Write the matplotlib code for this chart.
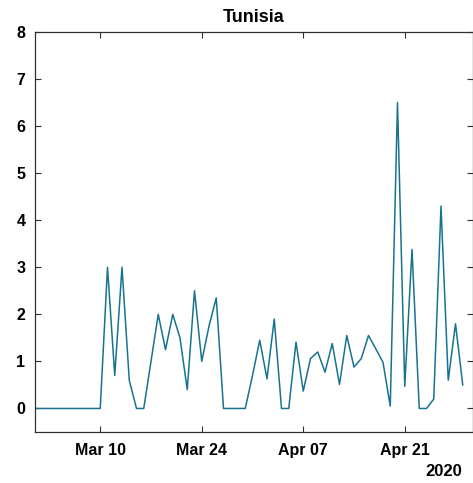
import numpy as np
import matplotlib
matplotlib.use("Agg")
import matplotlib.pyplot as plt
import matplotlib.dates as mdates

plt.rcParams.update({
    "font.family": ["Liberation Sans", "DejaVu Sans"],
    "font.size": 11.5,
    "font.weight": "bold",
})

# daily new cases, 1 Mar 2020 .. 29 Apr 2020
start = np.datetime64("2020-03-01")
values = [
    0, 0, 0, 0, 0, 0, 0, 0, 0, 0,
    3.0, 0.7, 3.0, 0.6, 0, 0, 1.0, 2.0, 1.25, 2.0,
    1.5, 0.4, 2.5, 1.0, 1.75, 2.35, 0, 0, 0, 0,
    0.7, 1.45, 0.63, 1.9, 0, 0, 1.41, 0.37, 1.06, 1.2,
    0.77, 1.38, 0.51, 1.55, 0.88, 1.06, 1.55, 1.27, 0.98, 0.05,
    6.5, 0.47, 3.38, 0, 0, 0.2, 4.3, 0.6, 1.8, 0.5,
]
dates = start + np.arange(len(values)).astype("timedelta64[D]")
tick_dates = np.array(["2020-03-10", "2020-03-24", "2020-04-07", "2020-04-21"],
                      dtype="datetime64[D]")
y_ticks = list(range(0, 9))

W, H = 473, 483
fig = plt.figure(figsize=(W / 100, H / 100), dpi=100)
ax = fig.add_axes([35 / W, 1 - 432 / H, 438 / W, 400 / H])

ax.plot(dates.astype("datetime64[s]").astype(object), values,
        color="#177390", lw=1.1)

x0 = mdates.date2num(start.astype(object))
ax.set_xlim(x0, x0 + 438 / 7.25)
ax.set_ylim(-0.5, 8)
ax.set_yticks(y_ticks)
ax.set_xticks([mdates.date2num(d.astype(object)) for d in tick_dates])
ax.xaxis.set_major_formatter(mdates.DateFormatter("%b %d"))

for s in ax.spines.values():
    s.set_color("#303030")
    s.set_linewidth(0.9)
ax.tick_params(direction="in", length=4, width=0.8, color="#303030",
               top=True, right=True, labelsize=11.5)
ax.tick_params(axis="x", pad=8)
ax.tick_params(axis="y", pad=7)
for lbl in ax.get_xticklabels() + ax.get_yticklabels():
    lbl.set_fontweight("bold")

fig.text(254 / W, 1 - 17 / H, "Tunisia", ha="center", va="center",
         fontsize=13, fontweight="bold")
fig.text(462 / W, 1 - 471 / H, "2020", ha="right", va="center",
         fontsize=12, fontweight="bold")

fig.savefig("out.png", dpi=100)
